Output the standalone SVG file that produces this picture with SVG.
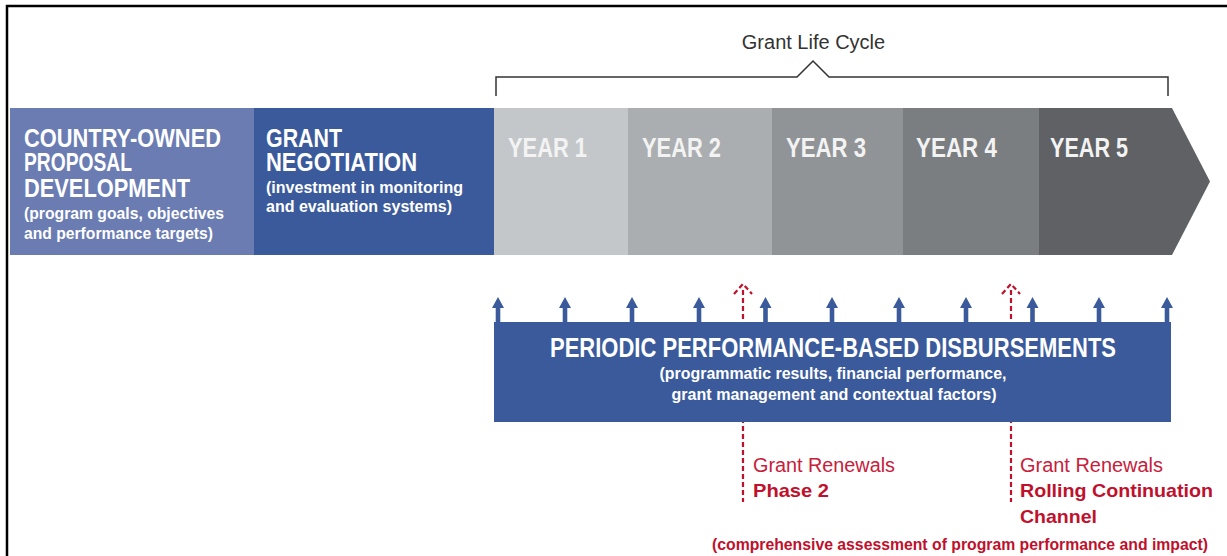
<svg xmlns="http://www.w3.org/2000/svg" width="1227" height="556" viewBox="0 0 1227 556">
<style>
  .hd{font-family:"Liberation Sans",Arial,sans-serif;font-weight:bold;fill:#ffffff;lengthAdjust:spacingAndGlyphs}
  .sub{font-family:"Liberation Sans",Arial,sans-serif;font-weight:bold;fill:#ffffff;font-size:16px}
  .yr{font-family:"Liberation Sans",Arial,sans-serif;font-weight:bold;fill:#f3f3f3;font-size:27px}
  .red{font-family:"Liberation Sans",Arial,sans-serif;fill:#c8203a}
  .redb{font-family:"Liberation Sans",Arial,sans-serif;font-weight:bold;fill:#c0102c}
  .dash{stroke:#c0102c;stroke-width:2.2;stroke-dasharray:5 3;fill:none}
</style>
<defs>
  <path id="barrow" d="M-2.3,1 V-15 H-6 L0,-26 L6,-15 H2.3 V1 Z" fill="#3a5a9b"/>
</defs>
<rect x="0" y="0" width="1227" height="556" fill="#ffffff"/>
<g id="frame" stroke="#000" stroke-width="2.5" fill="none">
  <line x1="7" y1="5" x2="7" y2="556"/>
  <line x1="6" y1="6" x2="1227" y2="6"/>
</g>

<g id="connectors">
  <line class="dash" x1="743" y1="290" x2="743" y2="502"/>
  <polyline class="dash" stroke-dasharray="4 2" points="734,294 743,284 752,294"/>
  <line class="dash" x1="1011" y1="290" x2="1011" y2="502"/>
  <polyline class="dash" stroke-dasharray="4 2" points="1002,294 1011,284 1020,294"/>
  <use href="#barrow" x="498" y="323"/>
  <use href="#barrow" x="565" y="323"/>
  <use href="#barrow" x="632" y="323"/>
  <use href="#barrow" x="699" y="323"/>
  <use href="#barrow" x="765.5" y="323"/>
  <use href="#barrow" x="832" y="323"/>
  <use href="#barrow" x="899" y="323"/>
  <use href="#barrow" x="966" y="323"/>
  <use href="#barrow" x="1032.5" y="323"/>
  <use href="#barrow" x="1099" y="323"/>
  <use href="#barrow" x="1167" y="323"/>
</g>

<g id="lifecycle">
  <path d="M496,96 V77 H797 L813,61 L829,77 H1168 V96" fill="none" stroke="#333" stroke-width="1.5"/>
  <text x="813.5" y="49" text-anchor="middle" font-family="Liberation Sans, Arial, sans-serif" font-size="20" fill="#333">Grant Life Cycle</text>
</g>

<g id="proposal">
  <rect x="10" y="108" width="244" height="147" fill="#6a7cb2"/>
  <text class="hd" x="24" y="147" font-size="26" textLength="197" lengthAdjust="spacingAndGlyphs">COUNTRY-OWNED</text>
  <text class="hd" x="24" y="171" font-size="26" textLength="108" lengthAdjust="spacingAndGlyphs">PROPOSAL</text>
  <text class="hd" x="24" y="197" font-size="26" textLength="166" lengthAdjust="spacingAndGlyphs">DEVELOPMENT</text>
  <text class="sub" x="24" y="219" textLength="200" lengthAdjust="spacingAndGlyphs">(program goals, objectives</text>
  <text class="sub" x="24" y="239" textLength="189" lengthAdjust="spacingAndGlyphs">and performance targets)</text>
</g>

<g id="negotiation">
  <rect x="254" y="108" width="240" height="147" fill="#3a5a9b"/>
  <text class="hd" x="266" y="147" font-size="26" textLength="76" lengthAdjust="spacingAndGlyphs">GRANT</text>
  <text class="hd" x="266" y="171" font-size="26" textLength="151" lengthAdjust="spacingAndGlyphs">NEGOTIATION</text>
  <text class="sub" x="266" y="193" textLength="197" lengthAdjust="spacingAndGlyphs">(investment in monitoring</text>
  <text class="sub" x="266" y="212" textLength="186" lengthAdjust="spacingAndGlyphs">and evaluation systems)</text>
</g>

<g id="year1">
  <rect x="494" y="108" width="134" height="147" fill="#c4c7ca"/>
  <text class="yr" x="508" y="157" textLength="79" lengthAdjust="spacingAndGlyphs">YEAR 1</text>
</g>
<g id="year2">
  <rect x="628" y="108" width="144" height="147" fill="#abaeb1"/>
  <text class="yr" x="642" y="157" textLength="79" lengthAdjust="spacingAndGlyphs">YEAR 2</text>
</g>
<g id="year3">
  <rect x="772" y="108" width="131" height="147" fill="#919497"/>
  <text class="yr" x="786" y="157" textLength="80" lengthAdjust="spacingAndGlyphs">YEAR 3</text>
</g>
<g id="year4">
  <rect x="903" y="108" width="136" height="147" fill="#7b7e81"/>
  <text class="yr" x="916" y="157" textLength="81" lengthAdjust="spacingAndGlyphs">YEAR 4</text>
</g>
<g id="year5">
  <polygon points="1039,108 1172,108 1210,181.5 1172,255 1039,255" fill="#5f6164"/>
  <text class="yr" x="1050" y="157" textLength="78" lengthAdjust="spacingAndGlyphs">YEAR 5</text>
</g>

<g id="disbursements">
  <rect x="494" y="322" width="677" height="100" fill="#3a5a9b"/>
  <text class="hd" x="833" y="357" font-size="27" text-anchor="middle" textLength="566" lengthAdjust="spacingAndGlyphs">PERIODIC PERFORMANCE-BASED DISBURSEMENTS</text>
  <text class="sub" x="833" y="379" text-anchor="middle" textLength="347" lengthAdjust="spacingAndGlyphs">(programmatic results, financial performance,</text>
  <text class="sub" x="834" y="400" text-anchor="middle" textLength="325" lengthAdjust="spacingAndGlyphs">grant management and contextual factors)</text>
</g>

<g id="phase2">
  <text class="red" x="753" y="472" font-size="20" textLength="142" lengthAdjust="spacingAndGlyphs">Grant Renewals</text>
  <text class="redb" x="753" y="497" font-size="19" textLength="76" lengthAdjust="spacingAndGlyphs">Phase 2</text>
</g>

<g id="rcc">
  <text class="red" x="1020" y="472" font-size="20" textLength="143" lengthAdjust="spacingAndGlyphs">Grant Renewals</text>
  <text class="redb" x="1020" y="497" font-size="19" textLength="193" lengthAdjust="spacingAndGlyphs">Rolling Continuation</text>
  <text class="redb" x="1020" y="523" font-size="19" textLength="77" lengthAdjust="spacingAndGlyphs">Channel</text>
  <text class="redb" x="712" y="550" font-size="16" textLength="496" lengthAdjust="spacingAndGlyphs">(comprehensive assessment of program performance and impact)</text>
</g>
</svg>
